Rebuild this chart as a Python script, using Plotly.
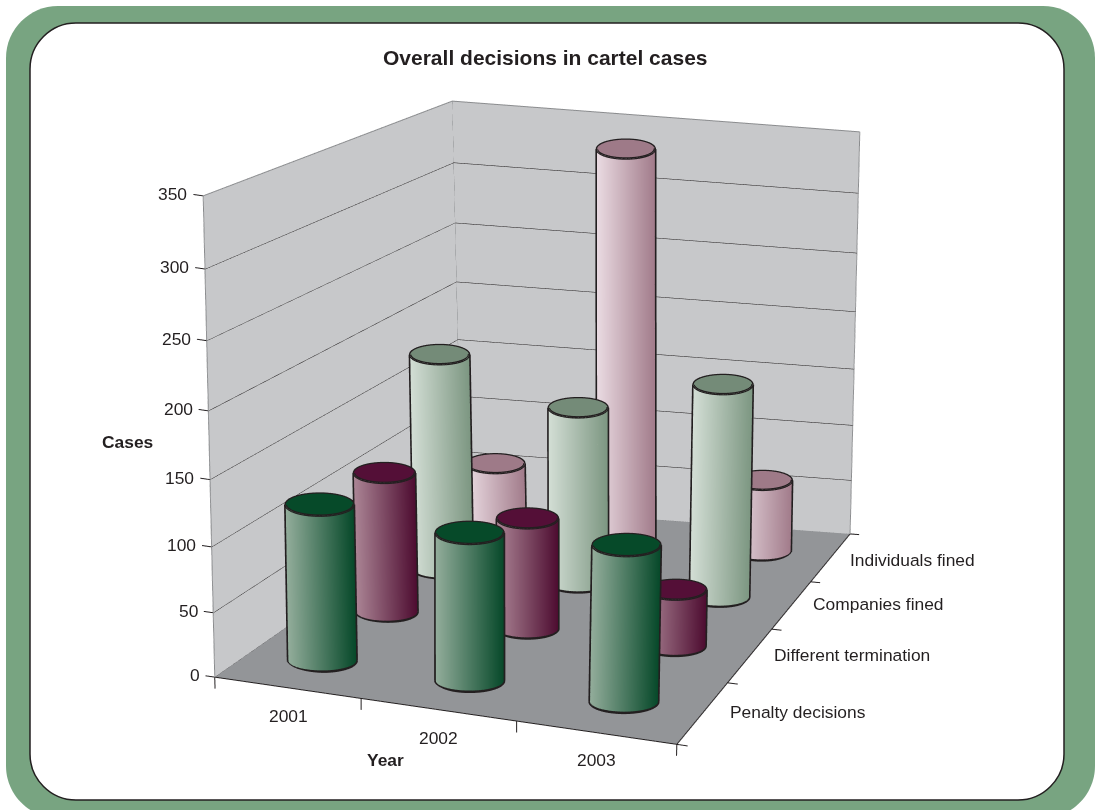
import numpy as np
import plotly.graph_objects as go

title = "Overall decisions in cartel cases"
years = ["2001", "2002", "2003"]
series = ["Penalty decisions", "Different termination", "Companies fined", "Individuals fined"]
penalty = [123, 117, 124]
termination = [115, 92, 48]
companies = [182, 150, 181]
individuals = [60, 334, 65]
z_ticks = [0, 50, 100, 150, 200, 250, 300, 350]
values = [penalty, termination, companies, individuals]

side_light = ["#93ad9b", "#ab8595", "#d3ded5", "#eadbe2"]
side_dark = ["#07492a", "#4e0d31", "#7d9782", "#a27c8b"]
tops = ["#064a29", "#540f37", "#748b78", "#9e7a88"]
wall_c = "#c7c8ca"
floor_c = "#939598"
ink = "#231f20"
edge_c = "#8a8c8e"

# Category boundaries along the two floor directions
col_edges = [0, 0.95, 1.96, 3]
row_edges = [0, 1.17, 2.19, 3.09, 4]
col_mid = [(a + b) / 2 for a, b in zip(col_edges, col_edges[1:])]
row_mid = [(a + b) / 2 for a, b in zip(row_edges, row_edges[1:])]
radii = [0.0838, 0.0752, 0.0727, 0.0715]
label_lift = [5, 4, 4, 0]

XR, YR, ZR = [-1, 4], [-1, 5], [-108.7, 441.3]
SX, SY, SZ = 0.3702, 0.3844, 1.1533 / 350
EYE = dict(x=0.772, y=-2.2336, z=0.815)
CENTER = dict(x=0, y=0, z=0)

# plotly's camera has a fixed lens, so the flatter perspective of the chart is applied here
def depth(y):
    return 1.087 - 0.0435 * np.asarray(y, float)

def wx(x, y, z):
    return (1.5 + (np.asarray(x, float) - 1.5) * depth(y) * (1 + 0.05 * np.asarray(z, float) / 350)
            + 0.012 * np.asarray(y, float))

def wz(x, y, z):
    z = np.asarray(z, float)
    z = z * (1 - 0.074 * (350 - z) / 350)
    return z * depth(y) + 2.0 * (np.asarray(x, float) - 1.5) * (np.asarray(y, float) - 2)

fig = go.Figure()
FLATLIGHT = dict(ambient=1, diffuse=0, specular=0, fresnel=0, roughness=1)

def flat_raw(xs, ys, zs, color):
    zs = np.array(zs, float)
    fig.add_trace(go.Surface(x=xs, y=ys, z=zs, surfacecolor=np.zeros_like(zs),
                             colorscale=[[0, color], [1, color]], showscale=False, cmin=0, cmax=1,
                             hoverinfo="skip", lighting=FLATLIGHT))

def flat(xs, ys, zs, color):
    xs, ys, zs = np.array(xs, float), np.array(ys, float), np.array(zs, float)
    flat_raw(wx(xs, ys, zs), ys, wz(xs, ys, zs), color)

def line_raw(xs, ys, zs, color=ink, width=2):
    fig.add_trace(go.Scatter3d(x=xs, y=ys, z=zs, mode="lines", line=dict(color=color, width=width),
                               hoverinfo="skip", showlegend=False))

def line(xs, ys, zs, color=ink, width=2):
    xs, ys, zs = np.array(xs, float), np.array(ys, float), np.array(zs, float)
    line_raw(wx(xs, ys, zs), ys, wz(xs, ys, zs), color, width)

top = z_ticks[-1]
wall_z = [0, 175, top]
flat([[0, 0]] * 3, [[0, 4]] * 3, [[z, z] for z in wall_z], wall_c)
flat([[0, 3]] * 3, [[4, 4]] * 3, [[z, z] for z in wall_z], wall_c)
flat([[0, 3], [0, 3]], [[0, 0], [4, 4]], [[0, 0], [0, 0]], floor_c)
for z in z_ticks:
    line([0, 0, 3], [0, 4, 4], [z, z, z], ink if z < top else edge_c, 2)
    line([-0.06, 0], [0, 0], [z, z], ink, 2)
line([0, 0], [0, 0], [0, top], edge_c, 2)
line([0, 0], [4, 4], [0, top], edge_c, 2)
line([3, 3], [4, 4], [0, top], edge_c, 2)
line([0, 3, 3], [0, 0, 4], [0, 0, 0], ink, 2)
for x in col_edges:
    line([x, x], [0, 0], [0, -9], ink, 2)
for y in row_edges:
    line([3, 3.07], [y, y], [0, 0], ink, 2)

phi = np.arctan2(EYE["y"], EYE["x"])
order = [(j, i) for j in range(3, -1, -1) for i in range(3)]
LW = 5
for j, i in order:
    R = radii[j]
    cx, cy = col_mid[i], row_mid[j]
    h = values[j][i]
    xb, xt = float(wx(cx, cy, 0)), float(wx(cx, cy, h))
    zb, zt = float(wz(cx, cy, 0)), float(wz(cx, cy, h))
    t = np.linspace(phi - np.pi / 2, phi + np.pi / 2, 41)
    ox, oy = R * np.cos(t) / SX, R * np.sin(t) / SY
    u = 1 - (np.sin(t - phi) + 1) / 2
    X = np.vstack([xb + ox, xt + ox])
    Y = np.vstack([cy + oy, cy + oy])
    Z = np.vstack([np.full_like(ox, zb), np.full_like(ox, zt)])
    fig.add_trace(go.Surface(x=X, y=Y, z=Z, surfacecolor=np.vstack([u, u]), cmin=0, cmax=1, showscale=False,
                             colorscale=[[0, side_dark[j]], [1, side_light[j]]], hoverinfo="skip",
                             lighting=FLATLIGHT))
    ta = np.linspace(0, 2 * np.pi, 49)
    rr = np.array([0, 1.0])
    TX = xt + np.outer(rr, R * np.cos(ta) / SX)
    TY = cy + np.outer(rr, R * np.sin(ta) / SY)
    flat_raw(TX, TY, np.full_like(TX, zt), tops[j])
    line_raw(xt + R * np.cos(ta) / SX, cy + R * np.sin(ta) / SY, np.full_like(ta, zt), width=LW)
    # outline sits a hair in front of the side and above the floor so it is not buried
    line_raw(xb + ox * 1.012, cy + oy * 1.012, np.full_like(ox, zb + 1.0), width=LW)
    line_raw([xb + ox[0] * 1.012, xt + ox[0] * 1.012], [cy + oy[0] * 1.012] * 2, [zb + 1.0, zt], width=LW)
    line_raw([xb + ox[-1] * 1.012, xt + ox[-1] * 1.012], [cy + oy[-1] * 1.012] * 2, [zb + 1.0, zt], width=LW)

font = dict(family="Liberation Sans, Arial, sans-serif", size=17.4, color=ink)
scene_ann = []
def place(x, y, z, text, **kw):
    scene_ann.append(dict(x=float(wx(x, y, z)), y=y, z=float(wz(x, y, z)), text=text, showarrow=False, font=font, **kw))
for z in z_ticks:
    place(-0.085, 0, z, str(z), xanchor="right")
for i, yr in enumerate(years):
    place(col_mid[i], 0, -22, yr)
for j, s in enumerate(series):
    place(3.185, row_mid[j], 0, s, xanchor="left", yshift=label_lift[j], xshift=-1.7 * row_mid[j] - 1)

def noaxis(rng):
    return dict(range=rng, visible=False, showgrid=False, zeroline=False, showbackground=False,
                showspikes=False, showticklabels=False, title="")

W, H = 1095, 810
def rrect(x0, y0, x1, y1, r):
    fx = lambda v: v / W
    fy = lambda v: 1 - v / H
    k = 0.45 * r
    return (f"M{fx(x0+r)},{fy(y0)} L{fx(x1-r)},{fy(y0)} C{fx(x1-k)},{fy(y0)} {fx(x1)},{fy(y0+k)} {fx(x1)},{fy(y0+r)} "
            f"L{fx(x1)},{fy(y1-r)} C{fx(x1)},{fy(y1-k)} {fx(x1-k)},{fy(y1)} {fx(x1-r)},{fy(y1)} "
            f"L{fx(x0+r)},{fy(y1)} C{fx(x0+k)},{fy(y1)} {fx(x0)},{fy(y1-k)} {fx(x0)},{fy(y1-r)} "
            f"L{fx(x0)},{fy(y0+r)} C{fx(x0)},{fy(y0+k)} {fx(x0+k)},{fy(y0)} {fx(x0+r)},{fy(y0)} Z")

paper_ann = [
    dict(x=545 / W, y=1 - 57 / H, text=f"<b>{title}</b>", font=dict(font, size=21)),
    dict(x=127.5 / W, y=1 - 442 / H, text="<b>Cases</b>", font=font),
    dict(x=385 / W, y=1 - 760 / H, text="<b>Year</b>", font=font),
]
for a in paper_ann:
    a.update(xref="paper", yref="paper", showarrow=False, xanchor="center", yanchor="middle")

fig.update_layout(
    width=W, height=H, margin=dict(l=0, r=0, t=0, b=0), paper_bgcolor="white", showlegend=False,
    shapes=[
        dict(type="path", xref="paper", yref="paper", path=rrect(6, 6, 1095, 818, 52), fillcolor="#78a481",
             line=dict(width=0), layer="below"),
        dict(type="path", xref="paper", yref="paper", path=rrect(30, 23, 1064, 800, 46), fillcolor="white",
             line=dict(color=ink, width=1.5), layer="below"),
    ],
    annotations=paper_ann,
    scene=dict(
        domain=dict(x=[0, 1], y=[0, 1]), bgcolor="rgba(0,0,0,0)",
        xaxis=noaxis(XR), yaxis=noaxis(YR), zaxis=noaxis(ZR),
        aspectmode="manual",
        aspectratio=dict(x=(XR[1] - XR[0]) * SX, y=(YR[1] - YR[0]) * SY, z=(ZR[1] - ZR[0]) * SZ),
        camera=dict(eye=EYE, center=CENTER, up=dict(x=0, y=0, z=1), projection=dict(type="orthographic")),
        annotations=scene_ann,
    ),
)
fig.write_html("out.html", config=dict(displayModeBar=False), post_script="document.body.style.margin='0';")
